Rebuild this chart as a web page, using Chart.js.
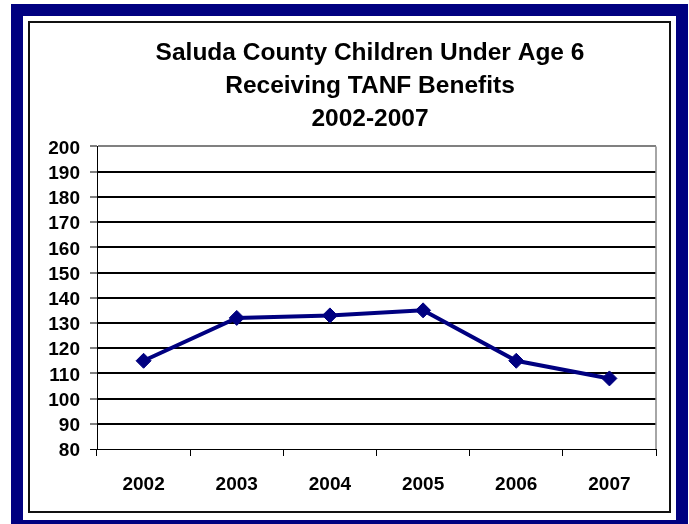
<!DOCTYPE html>
<html>
<head>
<meta charset="utf-8">
<script src="https://cdn.jsdelivr.net/npm/chart.js@4"></script>
<style>
  html, body { margin: 0; padding: 0; background: #fff; overflow: hidden; width: 689px; height: 524px; }
  #navy { position: absolute; left: 11px; top: 4px; width: 653px; height: 504px; border: 12px solid #000080; }
  #inner { position: absolute; left: 28px; top: 21px; width: 639px; height: 488px; border: 2px solid #111; }
  #wrap { position: absolute; left: 0; top: 0; width: 689px; height: 524px; }
</style>
</head>
<body>
<div id="navy"></div>
<div id="inner"></div>
<div id="wrap"><canvas id="c" width="689" height="524"></canvas></div>
<script>
const titleLines = ['Saluda County Children Under Age 6', 'Receiving TANF Benefits', '2002-2007'];
const years = ['2002', '2003', '2004', '2005', '2006', '2007'];
const children = [115, 132, 133, 135, 115, 108];
const yMin = 80, yMax = 200, yStep = 10;

const rightBorder = {
  id: 'rightBorder',
  afterLayout(chart) {
    // centre the title block a little left of the plot centre, as in the original
    if (chart.titleBlock) {
      chart.titleBlock.left = 84;
      chart.titleBlock.right = chart.chartArea.right;
    }
  },
  beforeDatasetsDraw(chart) {
    const a = chart.chartArea, ctx = chart.ctx;
    ctx.save();
    ctx.strokeStyle = '#888';
    ctx.lineWidth = 1.5;
    ctx.beginPath();
    ctx.moveTo(a.right, a.top);
    ctx.lineTo(a.right, a.bottom);
    ctx.stroke();
    ctx.restore();
  }
};

new Chart(document.getElementById('c'), {
  type: 'line',
  data: {
    labels: years,
    datasets: [{
      data: children,
      borderColor: '#000080',
      backgroundColor: '#000080',
      borderWidth: 4,
      pointStyle: 'rectRot',
      pointRadius: 7.5,
      pointHoverRadius: 7.5,
      pointBorderWidth: 1,
      tension: 0
    }]
  },
  plugins: [rightBorder],
  options: {
    responsive: false,
    animation: false,
    layout: { padding: { left: 0, right: 33, top: 37, bottom: 0 } },
    plugins: {
      legend: { display: false },
      tooltip: { enabled: false },
      title: {
        display: true,
        fullSize: false,
        text: titleLines,
        color: '#000',
        font: { family: 'Liberation Sans, Arial, sans-serif', size: 24.5, weight: 'bold', lineHeight: 1.34 },
        padding: { top: 0, bottom: 11 }
      }
    },
    scales: {
      x: {
        offset: true,
        grid: { offset: true, drawOnChartArea: false, drawTicks: true, tickLength: 7, tickColor: '#000', tickWidth: 1 },
        border: { color: '#000', width: 1 },
        ticks: { color: '#000', padding: 17, font: { family: 'Liberation Sans, Arial, sans-serif', size: 19, weight: 'bold' } },
        afterFit(s) { s.height = 75; }
      },
      y: {
        min: yMin, max: yMax,
        ticks: { stepSize: yStep, autoSkip: false, labelOffset: 2, color: '#000', padding: 10, font: { family: 'Liberation Sans, Arial, sans-serif', size: 19, weight: 'bold' } },
        grid: {
          color: (ctx) => ctx.tick && ctx.tick.value === yMax ? '#808080' : '#000',
          lineWidth: (ctx) => ctx.tick && ctx.tick.value === yMin ? 1 : 2,
          tickLength: 7, tickColor: '#000', tickWidth: 1
        },
        border: { color: '#000', width: 1 },
        afterFit(s) { s.width = 97; }
      }
    }
  }
});
</script>
</body>
</html>
